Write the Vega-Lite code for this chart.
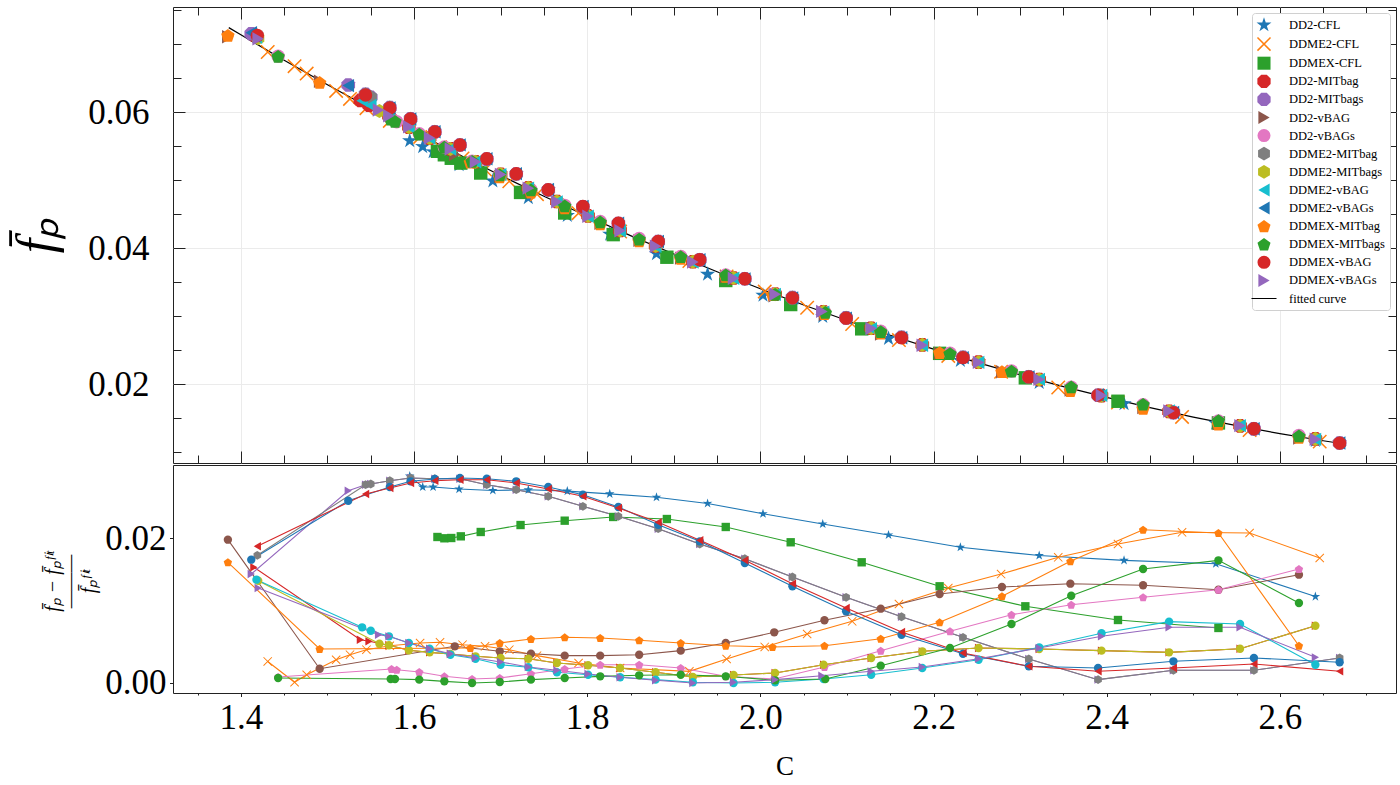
{
  "$schema": "https://vega.github.io/schema/vega-lite/v6.json",
  "background": "white",
  "padding": {"left": 9, "top": 6, "right": 0, "bottom": 0},
  "spacing": 0,
  "config": {
    "view": {"stroke": "#222222", "strokeWidth": 1},
    "axis": {
      "domain": false, "grid": false,
      "labelFont": "Liberation Serif", "labelFontSize": 35, "labelColor": "#000000",
      "labelFlush": false, "labelOverlap": false, "labelBound": false,
      "tickColor": "#222222", "tickWidth": 1,
      "titleFont": "Liberation Serif", "titleColor": "#000000", "titleFontWeight": "normal"
    }
  },
  "resolve": {"scale": {"x": "independent", "y": "independent", "color": "independent", "shape": "independent"}},
  "datasets": {
    "fit": [
      {"C": 1.386, "f": 0.0724}, {"C": 1.40, "f": 0.07134}, {"C": 1.45, "f": 0.06762}, {"C": 1.50, "f": 0.06401},
      {"C": 1.55, "f": 0.06051}, {"C": 1.60, "f": 0.05712}, {"C": 1.65, "f": 0.05385}, {"C": 1.70, "f": 0.05068},
      {"C": 1.75, "f": 0.04763}, {"C": 1.80, "f": 0.04469}, {"C": 1.85, "f": 0.04185}, {"C": 1.90, "f": 0.03914},
      {"C": 1.95, "f": 0.03653}, {"C": 2.00, "f": 0.03403}, {"C": 2.05, "f": 0.03165}, {"C": 2.10, "f": 0.02937},
      {"C": 2.15, "f": 0.02721}, {"C": 2.20, "f": 0.02516}, {"C": 2.25, "f": 0.02322}, {"C": 2.30, "f": 0.02139},
      {"C": 2.35, "f": 0.01967}, {"C": 2.40, "f": 0.01807}, {"C": 2.45, "f": 0.01657}, {"C": 2.50, "f": 0.01519},
      {"C": 2.55, "f": 0.01392}, {"C": 2.60, "f": 0.01276}, {"C": 2.65, "f": 0.01171}, {"C": 2.669, "f": 0.01134}
    ],
    "pts": [
      {"s": "DD2-CFL", "C": 1.595, "f": 0.05579, "r": 0.02854},
      {"s": "DD2-CFL", "C": 1.610, "f": 0.05492, "r": 0.02703},
      {"s": "DD2-CFL", "C": 1.622, "f": 0.05415, "r": 0.02703},
      {"s": "DD2-CFL", "C": 1.652, "f": 0.05227, "r": 0.02675},
      {"s": "DD2-CFL", "C": 1.691, "f": 0.04987, "r": 0.02656},
      {"s": "DD2-CFL", "C": 1.732, "f": 0.04740, "r": 0.02665},
      {"s": "DD2-CFL", "C": 1.777, "f": 0.04480, "r": 0.02647},
      {"s": "DD2-CFL", "C": 1.826, "f": 0.04206, "r": 0.02609},
      {"s": "DD2-CFL", "C": 1.880, "f": 0.03918, "r": 0.02562},
      {"s": "DD2-CFL", "C": 1.939, "f": 0.03617, "r": 0.02477},
      {"s": "DD2-CFL", "C": 2.003, "f": 0.03309, "r": 0.02335},
      {"s": "DD2-CFL", "C": 2.072, "f": 0.02996, "r": 0.02193},
      {"s": "DD2-CFL", "C": 2.148, "f": 0.02674, "r": 0.02042},
      {"s": "DD2-CFL", "C": 2.231, "f": 0.02350, "r": 0.01872},
      {"s": "DD2-CFL", "C": 2.322, "f": 0.02026, "r": 0.01758},
      {"s": "DD2-CFL", "C": 2.420, "f": 0.01716, "r": 0.01692},
      {"s": "DD2-CFL", "C": 2.526, "f": 0.01428, "r": 0.01645},
      {"s": "DD2-CFL", "C": 2.641, "f": 0.01175, "r": 0.01192},

      {"s": "DDME2-CFL", "C": 1.431, "f": 0.06882, "r": 0.00297},
      {"s": "DDME2-CFL", "C": 1.462, "f": 0.06674, "r": 0.0001},
      {"s": "DDME2-CFL", "C": 1.476, "f": 0.06565, "r": 0.00114},
      {"s": "DDME2-CFL", "C": 1.510, "f": 0.06310, "r": 0.00321},
      {"s": "DDME2-CFL", "C": 1.526, "f": 0.06193, "r": 0.00390},
      {"s": "DDME2-CFL", "C": 1.545, "f": 0.06057, "r": 0.00459},
      {"s": "DDME2-CFL", "C": 1.572, "f": 0.05870, "r": 0.00514},
      {"s": "DDME2-CFL", "C": 1.607, "f": 0.05634, "r": 0.00552},
      {"s": "DDME2-CFL", "C": 1.630, "f": 0.05483, "r": 0.00561},
      {"s": "DDME2-CFL", "C": 1.656, "f": 0.05318, "r": 0.00528},
      {"s": "DDME2-CFL", "C": 1.682, "f": 0.05154, "r": 0.00506},
      {"s": "DDME2-CFL", "C": 1.710, "f": 0.04983, "r": 0.00459},
      {"s": "DDME2-CFL", "C": 1.742, "f": 0.04793, "r": 0.00377},
      {"s": "DDME2-CFL", "C": 1.790, "f": 0.04514, "r": 0.00276},
      {"s": "DDME2-CFL", "C": 1.838, "f": 0.04244, "r": 0.00207},
      {"s": "DDME2-CFL", "C": 1.918, "f": 0.03812, "r": 0.00161},
      {"s": "DDME2-CFL", "C": 1.961, "f": 0.03585, "r": 0.00331},
      {"s": "DDME2-CFL", "C": 2.005, "f": 0.03362, "r": 0.00497},
      {"s": "DDME2-CFL", "C": 2.054, "f": 0.03125, "r": 0.00676},
      {"s": "DDME2-CFL", "C": 2.106, "f": 0.02886, "r": 0.00851},
      {"s": "DDME2-CFL", "C": 2.160, "f": 0.02650, "r": 0.01090},
      {"s": "DDME2-CFL", "C": 2.217, "f": 0.02417, "r": 0.01310},
      {"s": "DDME2-CFL", "C": 2.278, "f": 0.02185, "r": 0.01503},
      {"s": "DDME2-CFL", "C": 2.344, "f": 0.01953, "r": 0.01734},
      {"s": "DDME2-CFL", "C": 2.413, "f": 0.01733, "r": 0.01917},
      {"s": "DDME2-CFL", "C": 2.487, "f": 0.01521, "r": 0.02079},
      {"s": "DDME2-CFL", "C": 2.565, "f": 0.01328, "r": 0.02069},
      {"s": "DDME2-CFL", "C": 2.646, "f": 0.01158, "r": 0.01724},

      {"s": "DDMEX-CFL", "C": 1.627, "f": 0.05423, "r": 0.02014},
      {"s": "DDMEX-CFL", "C": 1.635, "f": 0.05372, "r": 0.01996},
      {"s": "DDMEX-CFL", "C": 1.643, "f": 0.05321, "r": 0.02000},
      {"s": "DDMEX-CFL", "C": 1.654, "f": 0.05250, "r": 0.02023},
      {"s": "DDMEX-CFL", "C": 1.677, "f": 0.05104, "r": 0.02083},
      {"s": "DDMEX-CFL", "C": 1.723, "f": 0.04819, "r": 0.02179},
      {"s": "DDMEX-CFL", "C": 1.774, "f": 0.04517, "r": 0.02239},
      {"s": "DDMEX-CFL", "C": 1.830, "f": 0.04199, "r": 0.02290},
      {"s": "DDMEX-CFL", "C": 1.892, "f": 0.03867, "r": 0.02262},
      {"s": "DDMEX-CFL", "C": 1.960, "f": 0.03525, "r": 0.02152},
      {"s": "DDMEX-CFL", "C": 2.035, "f": 0.03172, "r": 0.01941},
      {"s": "DDMEX-CFL", "C": 2.117, "f": 0.02815, "r": 0.01665},
      {"s": "DDMEX-CFL", "C": 2.207, "f": 0.02455, "r": 0.01334},
      {"s": "DDMEX-CFL", "C": 2.306, "f": 0.02095, "r": 0.01058},
      {"s": "DDMEX-CFL", "C": 2.413, "f": 0.01751, "r": 0.00869},
      {"s": "DDMEX-CFL", "C": 2.529, "f": 0.01433, "r": 0.00759},

      {"s": "DD2-MITbag", "C": 1.415, "f": 0.07134, "r": 0.01596},
      {"s": "DD2-MITbag", "C": 1.538, "f": 0.06171, "r": 0.00597},
      {"s": "DD2-MITbag", "C": 1.548, "f": 0.06100, "r": 0.00575},
      {"s": "DD2-MITbag", "C": 1.571, "f": 0.05938, "r": 0.00520},
      {"s": "DD2-MITbag", "C": 1.594, "f": 0.05778, "r": 0.00451},
      {"s": "DD2-MITbag", "C": 1.618, "f": 0.05617, "r": 0.00423},
      {"s": "DD2-MITbag", "C": 1.642, "f": 0.05458, "r": 0.00400},
      {"s": "DD2-MITbag", "C": 1.671, "f": 0.05270, "r": 0.00368},
      {"s": "DD2-MITbag", "C": 1.700, "f": 0.05085, "r": 0.00345},
      {"s": "DD2-MITbag", "C": 1.732, "f": 0.04888, "r": 0.00335},
      {"s": "DD2-MITbag", "C": 1.765, "f": 0.04686, "r": 0.00276},
      {"s": "DD2-MITbag", "C": 1.801, "f": 0.04474, "r": 0.00244},
      {"s": "DD2-MITbag", "C": 1.838, "f": 0.04261, "r": 0.00207},
      {"s": "DD2-MITbag", "C": 1.879, "f": 0.04033, "r": 0.00148},
      {"s": "DD2-MITbag", "C": 1.922, "f": 0.03801, "r": 0.00083},
      {"s": "DD2-MITbag", "C": 1.969, "f": 0.03561, "r": 0.00110},
      {"s": "DD2-MITbag", "C": 2.017, "f": 0.03325, "r": 0.00138},
      {"s": "DD2-MITbag", "C": 2.073, "f": 0.03066, "r": 0.00252},
      {"s": "DD2-MITbag", "C": 2.128, "f": 0.02824, "r": 0.00345},
      {"s": "DD2-MITbag", "C": 2.187, "f": 0.02579, "r": 0.00437},
      {"s": "DD2-MITbag", "C": 2.252, "f": 0.02325, "r": 0.00483},
      {"s": "DD2-MITbag", "C": 2.322, "f": 0.02071, "r": 0.00469},
      {"s": "DD2-MITbag", "C": 2.394, "f": 0.01833, "r": 0.00446},
      {"s": "DD2-MITbag", "C": 2.472, "f": 0.01602, "r": 0.00423},
      {"s": "DD2-MITbag", "C": 2.554, "f": 0.01389, "r": 0.00473},
      {"s": "DD2-MITbag", "C": 2.641, "f": 0.01198, "r": 0.00790},

      {"s": "DD2-MITbags", "C": 1.412, "f": 0.07150, "r": 0.01503},
      {"s": "DD2-MITbags", "C": 1.524, "f": 0.06397, "r": 0.02652},
      {"s": "DD2-MITbags", "C": 1.544, "f": 0.06259, "r": 0.02735},
      {"s": "DD2-MITbags", "C": 1.550, "f": 0.06217, "r": 0.02745},
      {"s": "DD2-MITbags", "C": 1.572, "f": 0.06065, "r": 0.02790},
      {"s": "DD2-MITbags", "C": 1.596, "f": 0.05901, "r": 0.02828},
      {"s": "DD2-MITbags", "C": 1.624, "f": 0.05710, "r": 0.02818},
      {"s": "DD2-MITbags", "C": 1.653, "f": 0.05516, "r": 0.02818},
      {"s": "DD2-MITbags", "C": 1.684, "f": 0.05309, "r": 0.02735},
      {"s": "DD2-MITbags", "C": 1.718, "f": 0.05089, "r": 0.02666},
      {"s": "DD2-MITbags", "C": 1.755, "f": 0.04855, "r": 0.02575},
      {"s": "DD2-MITbags", "C": 1.795, "f": 0.04607, "r": 0.02437},
      {"s": "DD2-MITbags", "C": 1.836, "f": 0.04362, "r": 0.02299},
      {"s": "DD2-MITbags", "C": 1.882, "f": 0.04096, "r": 0.02128},
      {"s": "DD2-MITbags", "C": 1.930, "f": 0.03828, "r": 0.01917},
      {"s": "DD2-MITbags", "C": 1.982, "f": 0.03551, "r": 0.01714},
      {"s": "DD2-MITbags", "C": 2.037, "f": 0.03273, "r": 0.01462},
      {"s": "DD2-MITbags", "C": 2.099, "f": 0.02976, "r": 0.01182},
      {"s": "DD2-MITbags", "C": 2.163, "f": 0.02691, "r": 0.00914},
      {"s": "DD2-MITbags", "C": 2.234, "f": 0.02398, "r": 0.00630},
      {"s": "DD2-MITbags", "C": 2.310, "f": 0.02111, "r": 0.00331},
      {"s": "DD2-MITbags", "C": 2.390, "f": 0.01839, "r": 0.00046},
      {"s": "DD2-MITbags", "C": 2.477, "f": 0.01584, "r": 0.00175},
      {"s": "DD2-MITbags", "C": 2.570, "f": 0.01346, "r": 0.00175},
      {"s": "DD2-MITbags", "C": 2.669, "f": 0.01138, "r": 0.00345},

      {"s": "DD2-vBAG", "C": 1.385, "f": 0.07105, "r": 0.01977},
      {"s": "DD2-vBAG", "C": 1.491, "f": 0.06452, "r": 0.00197},
      {"s": "DD2-vBAG", "C": 1.647, "f": 0.05377, "r": 0.00506},
      {"s": "DD2-vBAG", "C": 1.699, "f": 0.05052, "r": 0.00437},
      {"s": "DD2-vBAG", "C": 1.735, "f": 0.04834, "r": 0.00404},
      {"s": "DD2-vBAG", "C": 1.774, "f": 0.04603, "r": 0.00377},
      {"s": "DD2-vBAG", "C": 1.815, "f": 0.04366, "r": 0.00377},
      {"s": "DD2-vBAG", "C": 1.860, "f": 0.04114, "r": 0.00390},
      {"s": "DD2-vBAG", "C": 1.908, "f": 0.03854, "r": 0.00446},
      {"s": "DD2-vBAG", "C": 1.960, "f": 0.03583, "r": 0.00552},
      {"s": "DD2-vBAG", "C": 2.016, "f": 0.03302, "r": 0.00699},
      {"s": "DD2-vBAG", "C": 2.074, "f": 0.03028, "r": 0.00865},
      {"s": "DD2-vBAG", "C": 2.139, "f": 0.02739, "r": 0.01025},
      {"s": "DD2-vBAG", "C": 2.207, "f": 0.02457, "r": 0.01228},
      {"s": "DD2-vBAG", "C": 2.279, "f": 0.02185, "r": 0.01324},
      {"s": "DD2-vBAG", "C": 2.358, "f": 0.01914, "r": 0.01370},
      {"s": "DD2-vBAG", "C": 2.442, "f": 0.01658, "r": 0.01348},
      {"s": "DD2-vBAG", "C": 2.529, "f": 0.01425, "r": 0.01287},
      {"s": "DD2-vBAG", "C": 2.622, "f": 0.01210, "r": 0.01494},

      {"s": "DD2-vBAGs", "C": 1.443, "f": 0.06819, "r": 0.00083},
      {"s": "DD2-vBAGs", "C": 1.574, "f": 0.05898, "r": 0.00193},
      {"s": "DD2-vBAGs", "C": 1.580, "f": 0.05857, "r": 0.00183},
      {"s": "DD2-vBAGs", "C": 1.606, "f": 0.05681, "r": 0.00152},
      {"s": "DD2-vBAGs", "C": 1.635, "f": 0.05487, "r": 0.00092},
      {"s": "DD2-vBAGs", "C": 1.667, "f": 0.05279, "r": 0.00055},
      {"s": "DD2-vBAGs", "C": 1.699, "f": 0.05078, "r": 0.00069},
      {"s": "DD2-vBAGs", "C": 1.735, "f": 0.04859, "r": 0.00128},
      {"s": "DD2-vBAGs", "C": 1.774, "f": 0.04629, "r": 0.00193},
      {"s": "DD2-vBAGs", "C": 1.815, "f": 0.04393, "r": 0.00252},
      {"s": "DD2-vBAGs", "C": 1.860, "f": 0.04141, "r": 0.00252},
      {"s": "DD2-vBAGs", "C": 1.908, "f": 0.03879, "r": 0.00207},
      {"s": "DD2-vBAGs", "C": 1.960, "f": 0.03606, "r": 0.00092},
      {"s": "DD2-vBAGs", "C": 2.016, "f": 0.03327, "r": 0.00055},
      {"s": "DD2-vBAGs", "C": 2.074, "f": 0.03061, "r": 0.00221},
      {"s": "DD2-vBAGs", "C": 2.139, "f": 0.02780, "r": 0.00446},
      {"s": "DD2-vBAGs", "C": 2.219, "f": 0.02458, "r": 0.00713},
      {"s": "DD2-vBAGs", "C": 2.290, "f": 0.02195, "r": 0.00942},
      {"s": "DD2-vBAGs", "C": 2.359, "f": 0.01958, "r": 0.01080},
      {"s": "DD2-vBAGs", "C": 2.442, "f": 0.01700, "r": 0.01182},
      {"s": "DD2-vBAGs", "C": 2.529, "f": 0.01462, "r": 0.01287},
      {"s": "DD2-vBAGs", "C": 2.622, "f": 0.01247, "r": 0.01572},

      {"s": "DDME2-MITbag", "C": 1.419, "f": 0.07115, "r": 0.01761},
      {"s": "DDME2-MITbag", "C": 1.544, "f": 0.06259, "r": 0.02735},
      {"s": "DDME2-MITbag", "C": 1.550, "f": 0.06217, "r": 0.02745},
      {"s": "DDME2-MITbag", "C": 1.572, "f": 0.06065, "r": 0.02790},
      {"s": "DDME2-MITbag", "C": 1.596, "f": 0.05901, "r": 0.02828},
      {"s": "DDME2-MITbag", "C": 1.624, "f": 0.05710, "r": 0.02818},
      {"s": "DDME2-MITbag", "C": 1.653, "f": 0.05516, "r": 0.02818},
      {"s": "DDME2-MITbag", "C": 1.684, "f": 0.05309, "r": 0.02735},
      {"s": "DDME2-MITbag", "C": 1.718, "f": 0.05089, "r": 0.02666},
      {"s": "DDME2-MITbag", "C": 1.755, "f": 0.04855, "r": 0.02575},
      {"s": "DDME2-MITbag", "C": 1.795, "f": 0.04607, "r": 0.02437},
      {"s": "DDME2-MITbag", "C": 1.836, "f": 0.04362, "r": 0.02299},
      {"s": "DDME2-MITbag", "C": 1.882, "f": 0.04096, "r": 0.02128},
      {"s": "DDME2-MITbag", "C": 1.930, "f": 0.03828, "r": 0.01917},
      {"s": "DDME2-MITbag", "C": 1.982, "f": 0.03551, "r": 0.01714},
      {"s": "DDME2-MITbag", "C": 2.037, "f": 0.03273, "r": 0.01462},
      {"s": "DDME2-MITbag", "C": 2.099, "f": 0.02976, "r": 0.01182},
      {"s": "DDME2-MITbag", "C": 2.163, "f": 0.02691, "r": 0.00914},
      {"s": "DDME2-MITbag", "C": 2.234, "f": 0.02398, "r": 0.00630},
      {"s": "DDME2-MITbag", "C": 2.310, "f": 0.02111, "r": 0.00331},
      {"s": "DDME2-MITbag", "C": 2.390, "f": 0.01839, "r": 0.00046},
      {"s": "DDME2-MITbag", "C": 2.477, "f": 0.01584, "r": 0.00175},
      {"s": "DDME2-MITbag", "C": 2.570, "f": 0.01346, "r": 0.00175},
      {"s": "DDME2-MITbag", "C": 2.669, "f": 0.01138, "r": 0.00345},

      {"s": "DDME2-MITbags", "C": 1.420, "f": 0.07083, "r": 0.01411},
      {"s": "DDME2-MITbags", "C": 1.560, "f": 0.06015, "r": 0.00542},
      {"s": "DDME2-MITbags", "C": 1.571, "f": 0.05938, "r": 0.00520},
      {"s": "DDME2-MITbags", "C": 1.594, "f": 0.05778, "r": 0.00451},
      {"s": "DDME2-MITbags", "C": 1.618, "f": 0.05617, "r": 0.00423},
      {"s": "DDME2-MITbags", "C": 1.642, "f": 0.05458, "r": 0.00400},
      {"s": "DDME2-MITbags", "C": 1.671, "f": 0.05270, "r": 0.00368},
      {"s": "DDME2-MITbags", "C": 1.700, "f": 0.05085, "r": 0.00345},
      {"s": "DDME2-MITbags", "C": 1.732, "f": 0.04888, "r": 0.00335},
      {"s": "DDME2-MITbags", "C": 1.765, "f": 0.04686, "r": 0.00276},
      {"s": "DDME2-MITbags", "C": 1.801, "f": 0.04474, "r": 0.00244},
      {"s": "DDME2-MITbags", "C": 1.838, "f": 0.04261, "r": 0.00207},
      {"s": "DDME2-MITbags", "C": 1.879, "f": 0.04033, "r": 0.00148},
      {"s": "DDME2-MITbags", "C": 1.922, "f": 0.03801, "r": 0.00083},
      {"s": "DDME2-MITbags", "C": 1.969, "f": 0.03561, "r": 0.00110},
      {"s": "DDME2-MITbags", "C": 2.017, "f": 0.03325, "r": 0.00138},
      {"s": "DDME2-MITbags", "C": 2.073, "f": 0.03066, "r": 0.00252},
      {"s": "DDME2-MITbags", "C": 2.128, "f": 0.02824, "r": 0.00345},
      {"s": "DDME2-MITbags", "C": 2.187, "f": 0.02579, "r": 0.00437},
      {"s": "DDME2-MITbags", "C": 2.252, "f": 0.02325, "r": 0.00483},
      {"s": "DDME2-MITbags", "C": 2.322, "f": 0.02071, "r": 0.00469},
      {"s": "DDME2-MITbags", "C": 2.394, "f": 0.01833, "r": 0.00446},
      {"s": "DDME2-MITbags", "C": 2.472, "f": 0.01602, "r": 0.00423},
      {"s": "DDME2-MITbags", "C": 2.554, "f": 0.01389, "r": 0.00473},
      {"s": "DDME2-MITbags", "C": 2.641, "f": 0.01198, "r": 0.00790},

      {"s": "DDME2-vBAG", "C": 1.418, "f": 0.07099, "r": 0.01425},
      {"s": "DDME2-vBAG", "C": 1.540, "f": 0.06167, "r": 0.00768},
      {"s": "DDME2-vBAG", "C": 1.550, "f": 0.06095, "r": 0.00721},
      {"s": "DDME2-vBAG", "C": 1.571, "f": 0.05945, "r": 0.00644},
      {"s": "DDME2-vBAG", "C": 1.594, "f": 0.05784, "r": 0.00552},
      {"s": "DDME2-vBAG", "C": 1.618, "f": 0.05619, "r": 0.00473},
      {"s": "DDME2-vBAG", "C": 1.642, "f": 0.05457, "r": 0.00390},
      {"s": "DDME2-vBAG", "C": 1.671, "f": 0.05268, "r": 0.00335},
      {"s": "DDME2-vBAG", "C": 1.700, "f": 0.05081, "r": 0.00252},
      {"s": "DDME2-vBAG", "C": 1.732, "f": 0.04882, "r": 0.00217},
      {"s": "DDME2-vBAG", "C": 1.765, "f": 0.04680, "r": 0.00148},
      {"s": "DDME2-vBAG", "C": 1.801, "f": 0.04468, "r": 0.00114},
      {"s": "DDME2-vBAG", "C": 1.838, "f": 0.04256, "r": 0.00079},
      {"s": "DDME2-vBAG", "C": 1.879, "f": 0.04029, "r": 0.00046},
      {"s": "DDME2-vBAG", "C": 1.922, "f": 0.03798, "r": 0.0001},
      {"s": "DDME2-vBAG", "C": 1.969, "f": 0.03557, "r": 0.0},
      {"s": "DDME2-vBAG", "C": 2.017, "f": 0.03321, "r": 0.0001},
      {"s": "DDME2-vBAG", "C": 2.073, "f": 0.03060, "r": 0.00055},
      {"s": "DDME2-vBAG", "C": 2.128, "f": 0.02818, "r": 0.00114},
      {"s": "DDME2-vBAG", "C": 2.187, "f": 0.02573, "r": 0.00207},
      {"s": "DDME2-vBAG", "C": 2.252, "f": 0.02322, "r": 0.00321},
      {"s": "DDME2-vBAG", "C": 2.322, "f": 0.02072, "r": 0.00492},
      {"s": "DDME2-vBAG", "C": 2.394, "f": 0.01838, "r": 0.00686},
      {"s": "DDME2-vBAG", "C": 2.472, "f": 0.01608, "r": 0.00846},
      {"s": "DDME2-vBAG", "C": 2.554, "f": 0.01393, "r": 0.00814},
      {"s": "DDME2-vBAG", "C": 2.641, "f": 0.01191, "r": 0.00252},

      {"s": "DDME2-vBAGs", "C": 1.412, "f": 0.07164, "r": 0.01701},
      {"s": "DDME2-vBAGs", "C": 1.524, "f": 0.06388, "r": 0.02514},
      {"s": "DDME2-vBAGs", "C": 1.572, "f": 0.06060, "r": 0.02703},
      {"s": "DDME2-vBAGs", "C": 1.596, "f": 0.05898, "r": 0.02782},
      {"s": "DDME2-vBAGs", "C": 1.624, "f": 0.05710, "r": 0.02814},
      {"s": "DDME2-vBAGs", "C": 1.653, "f": 0.05517, "r": 0.02828},
      {"s": "DDME2-vBAGs", "C": 1.684, "f": 0.05314, "r": 0.02818},
      {"s": "DDME2-vBAGs", "C": 1.718, "f": 0.05095, "r": 0.02782},
      {"s": "DDME2-vBAGs", "C": 1.755, "f": 0.04861, "r": 0.02703},
      {"s": "DDME2-vBAGs", "C": 1.795, "f": 0.04614, "r": 0.02597},
      {"s": "DDME2-vBAGs", "C": 1.836, "f": 0.04367, "r": 0.02428},
      {"s": "DDME2-vBAGs", "C": 1.882, "f": 0.04098, "r": 0.02183},
      {"s": "DDME2-vBAGs", "C": 1.930, "f": 0.03829, "r": 0.01954},
      {"s": "DDME2-vBAGs", "C": 1.982, "f": 0.03549, "r": 0.01655},
      {"s": "DDME2-vBAGs", "C": 2.037, "f": 0.03269, "r": 0.01334},
      {"s": "DDME2-vBAGs", "C": 2.099, "f": 0.02971, "r": 0.00989},
      {"s": "DDME2-vBAGs", "C": 2.163, "f": 0.02684, "r": 0.00666},
      {"s": "DDME2-vBAGs", "C": 2.234, "f": 0.02392, "r": 0.00404},
      {"s": "DDME2-vBAGs", "C": 2.310, "f": 0.02109, "r": 0.00230},
      {"s": "DDME2-vBAGs", "C": 2.390, "f": 0.01842, "r": 0.00207},
      {"s": "DDME2-vBAGs", "C": 2.477, "f": 0.01586, "r": 0.00299},
      {"s": "DDME2-vBAGs", "C": 2.570, "f": 0.01348, "r": 0.00345},
      {"s": "DDME2-vBAGs", "C": 2.669, "f": 0.01137, "r": 0.00286},

      {"s": "DDMEX-MITbag", "C": 1.385, "f": 0.07127, "r": 0.01665},
      {"s": "DDMEX-MITbag", "C": 1.491, "f": 0.06435, "r": 0.00469},
      {"s": "DDMEX-MITbag", "C": 1.665, "f": 0.05263, "r": 0.00483},
      {"s": "DDMEX-MITbag", "C": 1.699, "f": 0.05046, "r": 0.00552},
      {"s": "DDMEX-MITbag", "C": 1.735, "f": 0.04824, "r": 0.00607},
      {"s": "DDMEX-MITbag", "C": 1.774, "f": 0.04591, "r": 0.00630},
      {"s": "DDMEX-MITbag", "C": 1.815, "f": 0.04355, "r": 0.00621},
      {"s": "DDMEX-MITbag", "C": 1.860, "f": 0.04106, "r": 0.00589},
      {"s": "DDMEX-MITbag", "C": 1.908, "f": 0.03850, "r": 0.00552},
      {"s": "DDMEX-MITbag", "C": 1.960, "f": 0.03584, "r": 0.00514},
      {"s": "DDMEX-MITbag", "C": 2.014, "f": 0.03319, "r": 0.00497},
      {"s": "DDMEX-MITbag", "C": 2.074, "f": 0.03038, "r": 0.00514},
      {"s": "DDMEX-MITbag", "C": 2.139, "f": 0.02750, "r": 0.00611},
      {"s": "DDMEX-MITbag", "C": 2.207, "f": 0.02467, "r": 0.00837},
      {"s": "DDMEX-MITbag", "C": 2.279, "f": 0.02188, "r": 0.01196},
      {"s": "DDMEX-MITbag", "C": 2.358, "f": 0.01908, "r": 0.01679},
      {"s": "DDMEX-MITbag", "C": 2.442, "f": 0.01645, "r": 0.02114},
      {"s": "DDMEX-MITbag", "C": 2.529, "f": 0.01414, "r": 0.02069},
      {"s": "DDMEX-MITbag", "C": 2.622, "f": 0.01222, "r": 0.00514},

      {"s": "DDMEX-MITbags", "C": 1.443, "f": 0.06818, "r": 0.00069},
      {"s": "DDMEX-MITbags", "C": 1.573, "f": 0.05897, "r": 0.00055},
      {"s": "DDMEX-MITbags", "C": 1.578, "f": 0.05863, "r": 0.00055},
      {"s": "DDMEX-MITbags", "C": 1.606, "f": 0.05675, "r": 0.00046},
      {"s": "DDMEX-MITbags", "C": 1.635, "f": 0.05483, "r": 0.00023},
      {"s": "DDMEX-MITbags", "C": 1.667, "f": 0.05276, "r": 0.0},
      {"s": "DDMEX-MITbags", "C": 1.699, "f": 0.05075, "r": 0.00014},
      {"s": "DDMEX-MITbags", "C": 1.735, "f": 0.04855, "r": 0.00046},
      {"s": "DDMEX-MITbags", "C": 1.774, "f": 0.04623, "r": 0.00069},
      {"s": "DDMEX-MITbags", "C": 1.815, "f": 0.04386, "r": 0.00092},
      {"s": "DDMEX-MITbags", "C": 1.860, "f": 0.04134, "r": 0.00106},
      {"s": "DDMEX-MITbags", "C": 1.908, "f": 0.03875, "r": 0.00114},
      {"s": "DDMEX-MITbags", "C": 1.960, "f": 0.03606, "r": 0.00092},
      {"s": "DDMEX-MITbags", "C": 2.017, "f": 0.03322, "r": 0.00037},
      {"s": "DDMEX-MITbags", "C": 2.075, "f": 0.03055, "r": 0.00055},
      {"s": "DDMEX-MITbags", "C": 2.139, "f": 0.02774, "r": 0.00239},
      {"s": "DDMEX-MITbags", "C": 2.219, "f": 0.02452, "r": 0.00483},
      {"s": "DDMEX-MITbags", "C": 2.290, "f": 0.02192, "r": 0.00814},
      {"s": "DDMEX-MITbags", "C": 2.359, "f": 0.01961, "r": 0.01204},
      {"s": "DDMEX-MITbags", "C": 2.442, "f": 0.01707, "r": 0.01572},
      {"s": "DDMEX-MITbags", "C": 2.529, "f": 0.01468, "r": 0.01692},
      {"s": "DDMEX-MITbags", "C": 2.622, "f": 0.01242, "r": 0.01103},

      {"s": "DDMEX-vBAG", "C": 1.419, "f": 0.07124, "r": 0.01886},
      {"s": "DDMEX-vBAG", "C": 1.544, "f": 0.06251, "r": 0.02607},
      {"s": "DDMEX-vBAG", "C": 1.572, "f": 0.06059, "r": 0.02690},
      {"s": "DDMEX-vBAG", "C": 1.596, "f": 0.05897, "r": 0.02759},
      {"s": "DDMEX-vBAG", "C": 1.624, "f": 0.05708, "r": 0.02790},
      {"s": "DDMEX-vBAG", "C": 1.653, "f": 0.05516, "r": 0.02804},
      {"s": "DDMEX-vBAG", "C": 1.684, "f": 0.05313, "r": 0.02804},
      {"s": "DDMEX-vBAG", "C": 1.718, "f": 0.05094, "r": 0.02759},
      {"s": "DDMEX-vBAG", "C": 1.755, "f": 0.04859, "r": 0.02676},
      {"s": "DDMEX-vBAG", "C": 1.795, "f": 0.04613, "r": 0.02575},
      {"s": "DDMEX-vBAG", "C": 1.836, "f": 0.04366, "r": 0.02414},
      {"s": "DDMEX-vBAG", "C": 1.882, "f": 0.04099, "r": 0.02217},
      {"s": "DDMEX-vBAG", "C": 1.930, "f": 0.03830, "r": 0.01969},
      {"s": "DDMEX-vBAG", "C": 1.982, "f": 0.03551, "r": 0.01693},
      {"s": "DDMEX-vBAG", "C": 2.037, "f": 0.03270, "r": 0.01370},
      {"s": "DDMEX-vBAG", "C": 2.099, "f": 0.02972, "r": 0.01034},
      {"s": "DDMEX-vBAG", "C": 2.163, "f": 0.02685, "r": 0.00703},
      {"s": "DDMEX-vBAG", "C": 2.234, "f": 0.02392, "r": 0.00414},
      {"s": "DDMEX-vBAG", "C": 2.310, "f": 0.02109, "r": 0.00230},
      {"s": "DDMEX-vBAG", "C": 2.390, "f": 0.01841, "r": 0.00161},
      {"s": "DDMEX-vBAG", "C": 2.477, "f": 0.01584, "r": 0.00207},
      {"s": "DDMEX-vBAG", "C": 2.570, "f": 0.01347, "r": 0.00262},
      {"s": "DDMEX-vBAG", "C": 2.669, "f": 0.01136, "r": 0.00161},

      {"s": "DDMEX-vBAGs", "C": 1.420, "f": 0.07076, "r": 0.01310},
      {"s": "DDMEX-vBAGs", "C": 1.559, "f": 0.06029, "r": 0.00666},
      {"s": "DDMEX-vBAGs", "C": 1.571, "f": 0.05945, "r": 0.00644},
      {"s": "DDMEX-vBAGs", "C": 1.594, "f": 0.05784, "r": 0.00552},
      {"s": "DDMEX-vBAGs", "C": 1.618, "f": 0.05619, "r": 0.00473},
      {"s": "DDMEX-vBAGs", "C": 1.642, "f": 0.05458, "r": 0.00404},
      {"s": "DDMEX-vBAGs", "C": 1.671, "f": 0.05268, "r": 0.00345},
      {"s": "DDMEX-vBAGs", "C": 1.700, "f": 0.05083, "r": 0.00290},
      {"s": "DDMEX-vBAGs", "C": 1.732, "f": 0.04882, "r": 0.00221},
      {"s": "DDMEX-vBAGs", "C": 1.765, "f": 0.04681, "r": 0.00175},
      {"s": "DDMEX-vBAGs", "C": 1.801, "f": 0.04468, "r": 0.00124},
      {"s": "DDMEX-vBAGs", "C": 1.838, "f": 0.04256, "r": 0.00079},
      {"s": "DDMEX-vBAGs", "C": 1.879, "f": 0.04029, "r": 0.00037},
      {"s": "DDMEX-vBAGs", "C": 1.922, "f": 0.03798, "r": 0.0},
      {"s": "DDMEX-vBAGs", "C": 1.969, "f": 0.03557, "r": 0.0001},
      {"s": "DDMEX-vBAGs", "C": 2.017, "f": 0.03322, "r": 0.00046},
      {"s": "DDMEX-vBAGs", "C": 2.071, "f": 0.03071, "r": 0.00101},
      {"s": "DDMEX-vBAGs", "C": 2.128, "f": 0.02819, "r": 0.00161},
      {"s": "DDMEX-vBAGs", "C": 2.187, "f": 0.02574, "r": 0.00221},
      {"s": "DDMEX-vBAGs", "C": 2.252, "f": 0.02322, "r": 0.00335},
      {"s": "DDMEX-vBAGs", "C": 2.322, "f": 0.02072, "r": 0.00483},
      {"s": "DDMEX-vBAGs", "C": 2.394, "f": 0.01837, "r": 0.00644},
      {"s": "DDMEX-vBAGs", "C": 2.472, "f": 0.01607, "r": 0.00768},
      {"s": "DDMEX-vBAGs", "C": 2.554, "f": 0.01393, "r": 0.00768},
      {"s": "DDMEX-vBAGs", "C": 2.641, "f": 0.01193, "r": 0.00354}
    ]
  },
  "vconcat": [
    {
      "width": 1223,
      "height": 456,
      "resolve": {"axis": {"x": "independent", "y": "independent"}},
      "layer": [
        {
          "data": {"name": "fit"},
          "mark": {"type": "line", "color": "#000000", "strokeWidth": 1.2},
          "encoding": {
            "x": {"field": "C", "type": "quantitative", "scale": {"domain": [1.3216, 2.7341], "nice": false, "zero": false},
                  "axis": {"orient": "bottom", "values": [1.4, 1.6, 1.8, 2.0, 2.2, 2.4, 2.6], "labels": false, "tickSize": -12, "grid": true, "gridColor": "#ebebeb", "title": null}},
            "y": {"field": "f", "type": "quantitative", "scale": {"domain": [0.00844, 0.07543], "nice": false, "zero": false},
                  "axis": {"orient": "left", "values": [0.02, 0.04, 0.06], "format": ".2f", "ticks": false, "grid": true, "gridColor": "#ebebeb", "labelPadding": 24,
                           "title": "f̄ₚ", "titleFontSize": 52, "titleFontStyle": "italic", "titleAngle": 270, "titleX": -137, "titleY": 228, "titleAlign": "center", "titleBaseline": "middle"}}
          }
        },
        {
          "data": {"name": "pts"},
          "mark": {"type": "point", "filled": true, "size": 180, "opacity": 1},
          "encoding": {
            "x": {"field": "C", "type": "quantitative", "scale": {"domain": [1.3216, 2.7341], "nice": false, "zero": false},
                  "axis": {"orient": "bottom", "values": [1.35, 1.45, 1.5, 1.55, 1.65, 1.7, 1.75, 1.85, 1.9, 1.95, 2.05, 2.1, 2.15, 2.25, 2.3, 2.35, 2.45, 2.5, 2.55, 2.65, 2.7], "labels": false, "tickSize": -8, "title": null}},
            "y": {"field": "f", "type": "quantitative", "scale": {"domain": [0.00844, 0.07543], "nice": false, "zero": false},
                  "axis": {"orient": "left", "values": [0.02, 0.04, 0.06], "labels": false, "tickSize": -12, "title": null}},
            "color": {"field": "s", "type": "nominal",
                      "scale": {"domain": ["DD2-CFL", "DDME2-CFL", "DDMEX-CFL", "DD2-MITbag", "DD2-MITbags", "DD2-vBAG", "DD2-vBAGs", "DDME2-MITbag", "DDME2-MITbags", "DDME2-vBAG", "DDME2-vBAGs", "DDMEX-MITbag", "DDMEX-MITbags", "DDMEX-vBAG", "DDMEX-vBAGs", "fitted curve"],
                                "range": ["#1f77b4", "#ff7f0e", "#2ca02c", "#d62728", "#9467bd", "#8c564b", "#e377c2", "#7f7f7f", "#bcbd22", "#17becf", "#1f77b4", "#ff7f0e", "#2ca02c", "#d62728", "#9467bd", "#000000"]},
                      "legend": {"title": null, "orient": "top-right", "offset": 6, "padding": 5, "rowPadding": 4.1, "labelFont": "Liberation Serif", "labelFontSize": 12.5, "labelColor": "#000000", "labelOffset": 18, "labelLimit": 200, "symbolSize": 170, "symbolStrokeWidth": 0, "fillColor": "#ffffff", "strokeColor": "#d0d0d0", "cornerRadius": 3}},
            "shape": {"field": "s", "type": "nominal",
                      "scale": {"domain": ["DD2-CFL", "DDME2-CFL", "DDMEX-CFL", "DD2-MITbag", "DD2-MITbags", "DD2-vBAG", "DD2-vBAGs", "DDME2-MITbag", "DDME2-MITbags", "DDME2-vBAG", "DDME2-vBAGs", "DDMEX-MITbag", "DDMEX-MITbags", "DDMEX-vBAG", "DDMEX-vBAGs", "fitted curve"],
                                "range": [
                                  "M0,-1.2L0.268,-0.369L1.141,-0.371L0.434,0.141L0.705,0.971L0,0.456L-0.705,0.971L-0.434,0.141L-1.141,-0.371L-0.268,-0.369Z",
                                  "M-1.08,-0.92L-0.92,-1.08L1.08,0.92L0.92,1.08ZM-1.08,0.92L0.92,-1.08L1.08,-0.92L-0.92,1.08Z",
                                  "square",
                                  "M-0.421,-1.016L0.421,-1.016L1.016,-0.421L1.016,0.421L0.421,1.016L-0.421,1.016L-1.016,0.421L-1.016,-0.421Z",
                                  "M-0.421,-1.016L0.421,-1.016L1.016,-0.421L1.016,0.421L0.421,1.016L-0.421,1.016L-1.016,0.421L-1.016,-0.421Z",
                                  "triangle-right",
                                  "circle",
                                  "M0,-1.05L0.909,-0.525L0.909,0.525L0,1.05L-0.909,0.525L-0.909,-0.525Z",
                                  "M0,-1.05L0.909,-0.525L0.909,0.525L0,1.05L-0.909,0.525L-0.909,-0.525Z",
                                  "triangle-left",
                                  "triangle-left",
                                  "M0,-0.95L0.999,-0.224L0.617,0.949L-0.617,0.949L-0.999,-0.224Z",
                                  "M0,-0.95L0.999,-0.224L0.617,0.949L-0.617,0.949L-0.999,-0.224Z",
                                  "circle",
                                  "triangle-right",
                                  "M-1.92,-0.08L1.92,-0.08L1.92,0.08L-1.92,0.08Z"
                                ]},
                      "legend": {"title": null, "orient": "top-right", "offset": 6, "padding": 5, "rowPadding": 4.1, "labelFont": "Liberation Serif", "labelFontSize": 12.5, "labelColor": "#000000", "labelOffset": 18, "labelLimit": 200, "symbolSize": 170, "symbolStrokeWidth": 0, "fillColor": "#ffffff", "strokeColor": "#d0d0d0", "cornerRadius": 3}}
          }
        },
        {
          "data": {"name": "fit"},
          "mark": {"type": "point", "opacity": 0},
          "encoding": {
            "x": {"field": "C", "type": "quantitative", "scale": {"domain": [1.3216, 2.7341], "nice": false, "zero": false},
                  "axis": {"orient": "top", "values": [1.4, 1.6, 1.8, 2.0, 2.2, 2.4, 2.6], "labels": false, "tickSize": -12, "title": null}},
            "y": {"field": "f", "type": "quantitative", "scale": {"domain": [0.00844, 0.07543], "nice": false, "zero": false},
                  "axis": {"orient": "left", "values": [0.01, 0.015, 0.025, 0.03, 0.035, 0.045, 0.05, 0.055, 0.065, 0.07, 0.075], "labels": false, "tickSize": -8, "title": null}}
          }
        },
        {
          "data": {"name": "fit"},
          "mark": {"type": "point", "opacity": 0},
          "encoding": {
            "x": {"field": "C", "type": "quantitative", "scale": {"domain": [1.3216, 2.7341], "nice": false, "zero": false},
                  "axis": {"orient": "top", "values": [1.35, 1.45, 1.5, 1.55, 1.65, 1.7, 1.75, 1.85, 1.9, 1.95, 2.05, 2.1, 2.15, 2.25, 2.3, 2.35, 2.45, 2.5, 2.55, 2.65, 2.7], "labels": false, "tickSize": -8, "title": null}},
            "y": {"field": "f", "type": "quantitative", "scale": {"domain": [0.00844, 0.07543], "nice": false, "zero": false},
                  "axis": {"orient": "right", "values": [0.02, 0.04, 0.06], "labels": false, "tickSize": -12, "title": null}}
          }
        },
        {
          "data": {"name": "fit"},
          "mark": {"type": "point", "opacity": 0},
          "encoding": {
            "x": {"field": "C", "type": "quantitative", "scale": {"domain": [1.3216, 2.7341], "nice": false, "zero": false}, "axis": null},
            "y": {"field": "f", "type": "quantitative", "scale": {"domain": [0.00844, 0.07543], "nice": false, "zero": false},
                  "axis": {"orient": "right", "values": [0.01, 0.015, 0.025, 0.03, 0.035, 0.045, 0.05, 0.055, 0.065, 0.07, 0.075], "labels": false, "tickSize": -8, "title": null}}
          }
        }
      ]
    },
    {
      "width": 1223,
      "height": 228,
      "resolve": {"axis": {"x": "independent", "y": "independent"}},
      "layer": [
        {
          "data": {"name": "pts"},
          "mark": {"type": "line", "strokeWidth": 1.1},
          "encoding": {
            "x": {"field": "C", "type": "quantitative", "scale": {"domain": [1.3216, 2.7341], "nice": false, "zero": false},
                  "axis": {"orient": "bottom", "values": [1.4, 1.6, 1.8, 2.0, 2.2, 2.4, 2.6], "format": ".1f", "tickSize": 3.5, "labelPadding": 4,
                           "title": "C", "titleFontSize": 27, "titleY": 73, "titleBaseline": "middle"}},
            "y": {"field": "r", "type": "quantitative", "scale": {"domain": [-0.00138, 0.03007], "nice": false, "zero": false},
                  "axis": {"orient": "left", "values": [0, 0.02], "format": ".2f", "tickSize": 3.5, "labelPadding": 3.5,
                           "title": ["f̄ₚ − f̄ₚᶠⁱᵗ", "———", "f̄ₚᶠⁱᵗ"], "titleFontSize": 20, "titleLineHeight": 18, "titleFontStyle": "italic",
                           "titleAngle": 270, "titleX": -121, "titleY": 116, "titleAlign": "center", "titleBaseline": "middle"}},
            "color": {"field": "s", "type": "nominal",
                      "scale": {"domain": ["DD2-CFL", "DDME2-CFL", "DDMEX-CFL", "DD2-MITbag", "DD2-MITbags", "DD2-vBAG", "DD2-vBAGs", "DDME2-MITbag", "DDME2-MITbags", "DDME2-vBAG", "DDME2-vBAGs", "DDMEX-MITbag", "DDMEX-MITbags", "DDMEX-vBAG", "DDMEX-vBAGs"],
                                "range": ["#1f77b4", "#ff7f0e", "#2ca02c", "#d62728", "#9467bd", "#8c564b", "#e377c2", "#7f7f7f", "#bcbd22", "#17becf", "#1f77b4", "#ff7f0e", "#2ca02c", "#d62728", "#9467bd"]},
                      "legend": null},
            "order": {"field": "C", "type": "quantitative"}
          }
        },
        {
          "data": {"name": "pts"},
          "mark": {"type": "point", "filled": true, "size": 70, "opacity": 1},
          "encoding": {
            "x": {"field": "C", "type": "quantitative", "scale": {"domain": [1.3216, 2.7341], "nice": false, "zero": false},
                  "axis": {"orient": "bottom", "values": [1.35, 1.45, 1.5, 1.55, 1.65, 1.7, 1.75, 1.85, 1.9, 1.95, 2.05, 2.1, 2.15, 2.25, 2.3, 2.35, 2.45, 2.5, 2.55, 2.65, 2.7], "labels": false, "tickSize": 2, "title": null}},
            "y": {"field": "r", "type": "quantitative", "scale": {"domain": [-0.00138, 0.03007], "nice": false, "zero": false}, "axis": null},
            "color": {"field": "s", "type": "nominal",
                      "scale": {"domain": ["DD2-CFL", "DDME2-CFL", "DDMEX-CFL", "DD2-MITbag", "DD2-MITbags", "DD2-vBAG", "DD2-vBAGs", "DDME2-MITbag", "DDME2-MITbags", "DDME2-vBAG", "DDME2-vBAGs", "DDMEX-MITbag", "DDMEX-MITbags", "DDMEX-vBAG", "DDMEX-vBAGs"],
                                "range": ["#1f77b4", "#ff7f0e", "#2ca02c", "#d62728", "#9467bd", "#8c564b", "#e377c2", "#7f7f7f", "#bcbd22", "#17becf", "#1f77b4", "#ff7f0e", "#2ca02c", "#d62728", "#9467bd"]},
                      "legend": null},
            "shape": {"field": "s", "type": "nominal",
                      "scale": {"domain": ["DD2-CFL", "DDME2-CFL", "DDMEX-CFL", "DD2-MITbag", "DD2-MITbags", "DD2-vBAG", "DD2-vBAGs", "DDME2-MITbag", "DDME2-MITbags", "DDME2-vBAG", "DDME2-vBAGs", "DDMEX-MITbag", "DDMEX-MITbags", "DDMEX-vBAG", "DDMEX-vBAGs"],
                                "range": [
                                  "M0,-1.2L0.268,-0.369L1.141,-0.371L0.434,0.141L0.705,0.971L0,0.456L-0.705,0.971L-0.434,0.141L-1.141,-0.371L-0.268,-0.369Z",
                                  "M-1.08,-0.92L-0.92,-1.08L1.08,0.92L0.92,1.08ZM-1.08,0.92L0.92,-1.08L1.08,-0.92L-0.92,1.08Z",
                                  "square",
                                  "triangle-right",
                                  "triangle-right",
                                  "circle",
                                  "M0,-0.95L0.999,-0.224L0.617,0.949L-0.617,0.949L-0.999,-0.224Z",
                                  "M0,-1.05L0.909,-0.525L0.909,0.525L0,1.05L-0.909,0.525L-0.909,-0.525Z",
                                  "circle",
                                  "circle",
                                  "circle",
                                  "M0,-0.95L0.999,-0.224L0.617,0.949L-0.617,0.949L-0.999,-0.224Z",
                                  "circle",
                                  "triangle-left",
                                  "triangle-right"
                                ]},
                      "legend": null}
          }
        }
      ]
    }
  ]
}
